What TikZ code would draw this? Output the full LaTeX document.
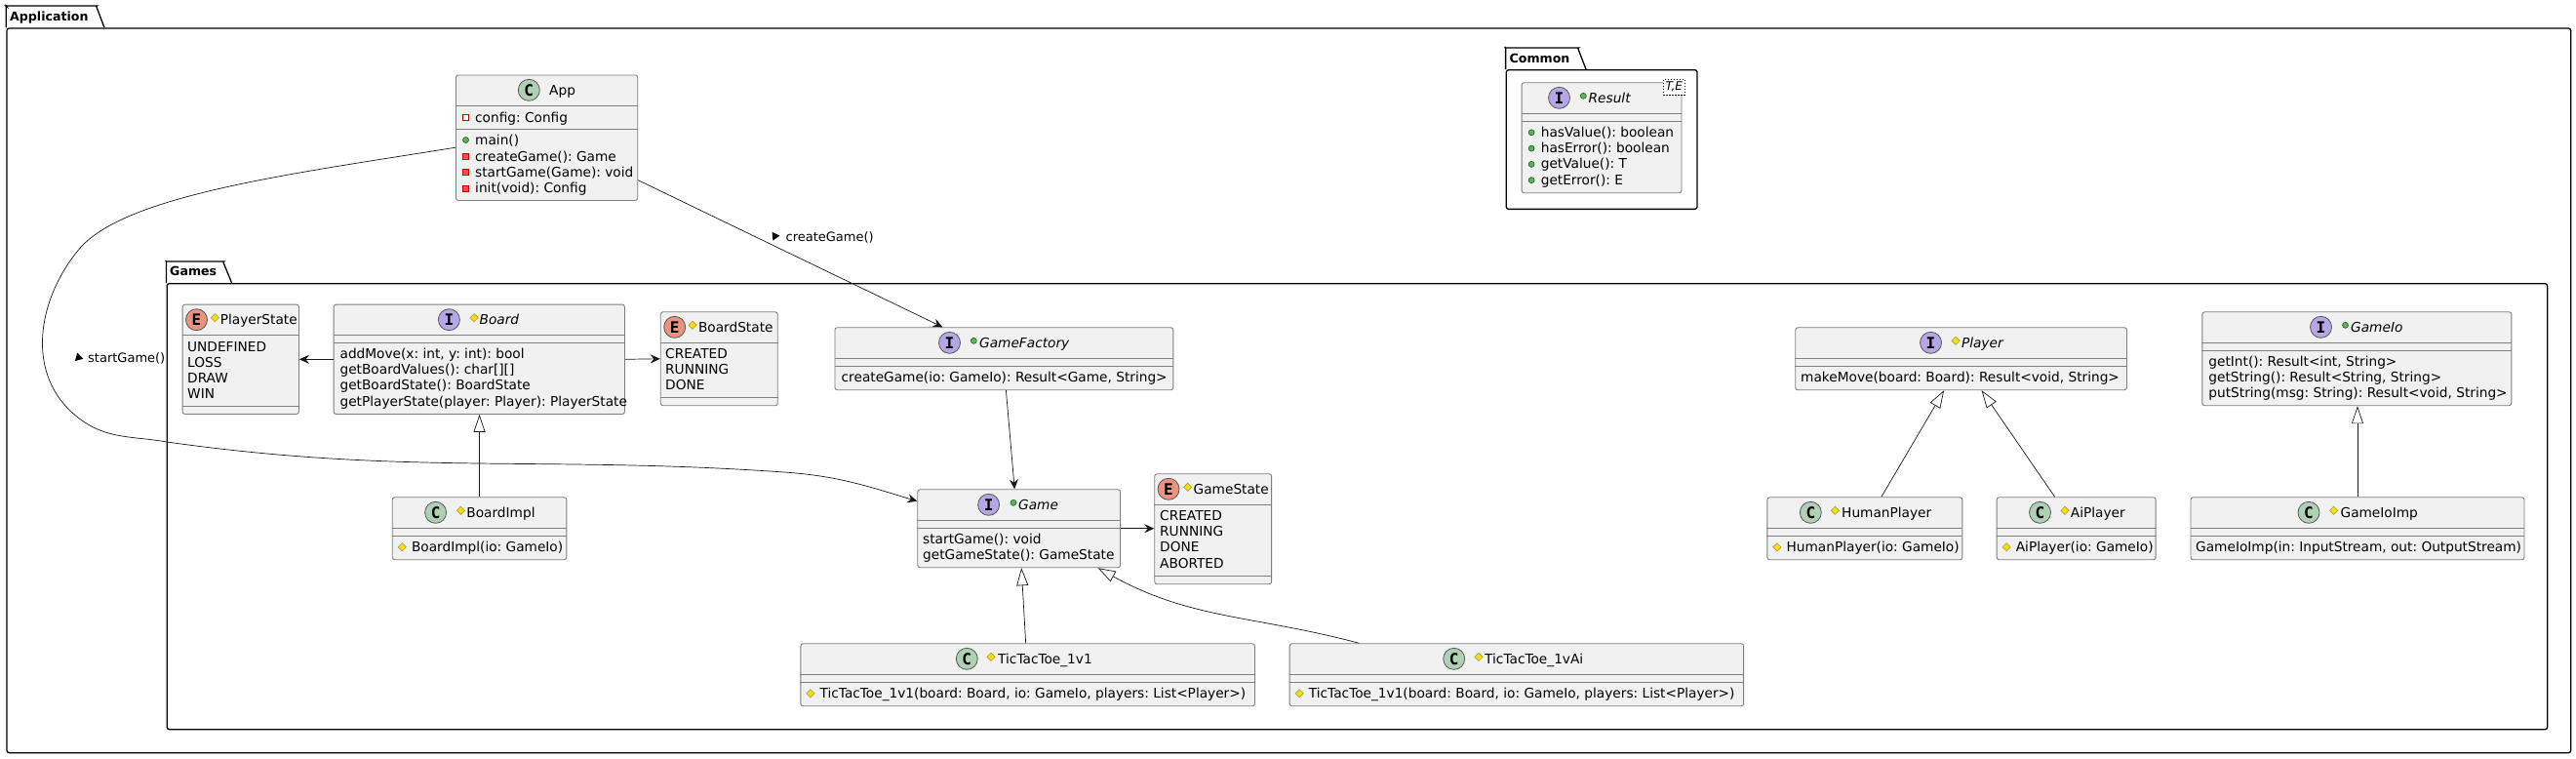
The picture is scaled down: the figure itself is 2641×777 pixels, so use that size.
\documentclass[tikz,border=0pt]{standalone}
\usepackage{fontspec}
\setmainfont{DejaVu Sans}
\setmonofont{DejaVu Sans Mono}
\usetikzlibrary{arrows.meta,shapes.geometric}
\frenchspacing

\definecolor{boxfill}{HTML}{F1F1F1}
\definecolor{boxline}{HTML}{7F7F7F}
\definecolor{spotC}{HTML}{ADD1B2}
\definecolor{spotI}{HTML}{B4A7E5}
\definecolor{spotE}{HTML}{EB937F}

\tikzset{
	classbox/.style={draw=boxline,fill=boxfill,line width=.9pt,rounded corners=2.5pt,inner sep=0pt,anchor=north west},
	pkgbody/.style={draw=black,fill=white,line width=1.3pt,rounded corners=2.5pt,inner sep=0pt,anchor=north west},
	pkgtitle/.style={anchor=base west,inner sep=0pt,font=\fontsize{12.6}{16}\selectfont\bfseries},
	sepline/.style={draw=boxline,line width=.9pt},
	spot/.style={circle,draw=black!65,line width=.8pt,inner sep=0pt,minimum size=22pt,font=\fontsize{16}{16}\ttfamily\bfseries},
	title/.style={anchor=base west,inner sep=0pt,font=\fontsize{13.7}{16}\selectfont},
	membertext/.style={anchor=base west,inner sep=0pt,font=\fontsize{13.7}{16}\selectfont},
	edgelabel/.style={anchor=base west,inner sep=0pt,font=\fontsize{13}{15}\selectfont},
	edgemark/.style={regular polygon,regular polygon sides=3,fill=black,inner sep=0pt,minimum size=10pt},
	vispub/.style={circle,draw=green!45!black,fill=green!45!black!60,line width=.6pt,inner sep=0pt,minimum size=6pt},
	vispro/.style={diamond,draw=yellow!60!black,fill=yellow!90!red,line width=.6pt,inner sep=0pt,minimum size=8.5pt},
	vispriv/.style={rectangle,draw=red!75!black,fill=red!70,line width=.6pt,inner sep=0pt,minimum size=6pt},
	visprivopen/.style={rectangle,draw=red!75!black,fill=white,line width=.8pt,inner sep=0pt,minimum size=6pt},
	assoc/.style={draw=black!90,line width=.7pt,-{Stealth[length=10pt,width=9pt,inset=3.5pt]}},
	extends/.style={draw=black!90,line width=.7pt,-{Triangle[length=18pt,width=12pt,fill=white]}},
}

% name, x, y, width, height
\newcommand{\umlbox}[5]{\node[classbox,minimum width=#4pt,minimum height=#5pt] (#1) at (#2,#3) {};}
% name, distance below the top edge
\newcommand{\umlsep}[2]{\draw[sepline] ([yshift=-#2pt]#1.north west)--([yshift=-#2pt]#1.north east);}
% name, spot colour, letter, spot x, spot y, title x, title
\newcommand{\umlhead}[7]{\node[spot,fill=#2] (#1-spot) at (#4,#5) {#3};
	\node[title] (#1-title) at (#6,#5+5) {#7};}
% name, icon style, box x, baseline y, text
\newcommand{\umlmember}[5]{\node[#2] (#1-icon) at (#3+10.5,#4-4.5) {};
	\node[membertext] (#1) at (#3+20,#4) {#5};}
% name, x, baseline y, text
\newcommand{\umlplain}[4]{\node[membertext] (#1) at (#2,#3) {#4};}

\begin{document}
\begin{tikzpicture}[x=1pt,y=-1pt]
\useasboundingbox (0,0) rectangle (2641,777);

% packages
\draw[pkgbody] (6.3,28.3)--(6.3,8.5) to [out=90,in=180](8.5,6)--(97,6) to [out=0,in=110](99.5,8.5)--(107,28.3);
\node[pkgbody,minimum width=2628.7pt,minimum height=742.7pt] (Application) at (6.3,28.3) {};
\node[pkgtitle] (Application-title) at (10,21) {Application};

\draw[pkgbody] (1543.6,71)--(1543.6,51.5) to [out=90,in=180](1546,49)--(1616,49) to [out=0,in=110](1618.5,51.5)--(1626,71);
\node[pkgbody,minimum width=195.8pt,minimum height=142.7pt] (Common) at (1543.6,71) {};
\node[pkgtitle] (Common-title) at (1547.4,64) {Common};

\draw[pkgbody] (170.5,290)--(170.5,270.5) to [out=90,in=180](173,268)--(227,268) to [out=0,in=110](229.6,270.5)--(237.6,290);
\node[pkgbody,minimum width=2440.5pt,minimum height=457pt] (Games) at (170.5,290) {};
\node[pkgtitle] (Games-title) at (174,282.7) {Games};

% App
\umlbox{App}{467}{76.5}{186.3}{128.5}
\umlsep{App}{31.5}
\umlsep{App}{55.8}
\umlhead{App}{spotC}{C}{542.3}{92.3}{563}{App}
\umlmember{App-config}{visprivopen}{467}{125}{config: Config}
\umlmember{App-main}{vispub}{467}{148}{main()}
\umlmember{App-create}{vispriv}{467}{165}{createGame(): Game}
\umlmember{App-start}{vispriv}{467}{181}{startGame(Game): void}
\umlmember{App-init}{vispriv}{467}{197.5}{init(void): Config}

% Result
\umlbox{Result}{1559.6}{84.3}{163.9}{113}
\umlsep{Result}{32}
\umlsep{Result}{40}
\umlhead{Result}{spotI}{I}{1598.5}{100.3}{1628.5}{\itshape Result}
\node[vispub] (Result-vis) at (1623.3,98.3) {};
\node[draw=black,fill=white,dashed,dash pattern=on 1.5pt off 1.5pt,line width=.7pt,inner sep=0pt,anchor=north west,
	minimum width=22pt,minimum height=15.7pt,font=\fontsize{12}{12}\selectfont\itshape] (Result-param) at (1705,81) {T,E};
\umlmember{Result-hasvalue}{vispub}{1559.6}{140.3}{hasValue(): boolean}
\umlmember{Result-haserror}{vispub}{1559.6}{156.6}{hasError(): boolean}
\umlmember{Result-getvalue}{vispub}{1559.6}{172.9}{getValue(): T}
\umlmember{Result-geterror}{vispub}{1559.6}{189.2}{getError(): E}

% PlayerState
\umlbox{PlayerState}{186.6}{311.7}{119.4}{112.3}
\umlsep{PlayerState}{31.6}
\umlsep{PlayerState}{104.3}
\umlhead{PlayerState}{spotE}{E}{201.5}{327.7}{225.6}{PlayerState}
\node[vispro] (PlayerState-vis) at (220.4,325.7) {};
\umlplain{PlayerState-undefined}{192}{360}{UNDEFINED}
\umlplain{PlayerState-loss}{192}{376.3}{LOSS}
\umlplain{PlayerState-draw}{192}{392.6}{DRAW}
\umlplain{PlayerState-win}{192}{408.9}{WIN}

% Board
\umlbox{Board}{341.6}{311.7}{298.4}{112.3}
\umlsep{Board}{31.6}
\umlsep{Board}{39.6}
\umlhead{Board}{spotI}{I}{460.4}{327.7}{491.4}{\itshape Board}
\node[vispro] (Board-vis) at (486.2,325.7) {};
\umlplain{Board-addmove}{348.4}{367.3}{addMove(x: int, y: int): bool}
\umlplain{Board-values}{348.4}{383.6}{getBoardValues(): char[][]}
\umlplain{Board-state}{348.4}{399.9}{getBoardState(): BoardState}
\umlplain{Board-player}{348.4}{416.2}{getPlayerState(player: Player): PlayerState}

% BoardState
\umlbox{BoardState}{676.8}{319.3}{120}{96}
\umlsep{BoardState}{32}
\umlsep{BoardState}{88}
\umlhead{BoardState}{spotE}{E}{691.7}{335.3}{715.8}{BoardState}
\node[vispro] (BoardState-vis) at (710,333.3) {};
\umlplain{BoardState-created}{682}{367.3}{CREATED}
\umlplain{BoardState-running}{682}{383.6}{RUNNING}
\umlplain{BoardState-done}{682}{399.9}{DONE}

% BoardImpl
\umlbox{BoardImpl}{401.8}{509.3}{178.6}{64}
\umlsep{BoardImpl}{32}
\umlsep{BoardImpl}{40}
\umlhead{BoardImpl}{spotC}{C}{446.6}{525.3}{478.2}{BoardImpl}
\node[vispro] (BoardImpl-vis) at (472.4,523.3) {};
\umlmember{BoardImpl-ctor}{vispro}{401.8}{565.3}{BoardImpl(io: GameIo)}

% GameFactory
\umlbox{GameFactory}{855.5}{335.3}{346.9}{64}
\umlsep{GameFactory}{32}
\umlsep{GameFactory}{40}
\umlhead{GameFactory}{spotI}{I}{973.5}{351.3}{1004}{\itshape GameFactory}
\node[vispub] (GameFactory-vis) at (998.3,349.3) {};
\umlplain{GameFactory-create}{862.5}{391.3}{createGame(io: GameIo): Result<Game, String>}

% Game
\umlbox{Game}{940.3}{501.3}{207.9}{80}
\umlsep{Game}{32}
\umlsep{Game}{40}
\umlhead{Game}{spotI}{I}{1013.6}{517.3}{1044}{\itshape Game}
\node[vispub] (Game-vis) at (1039,515.3) {};
\umlplain{Game-start}{946}{557.3}{startGame(): void}
\umlplain{Game-state}{946}{573.6}{getGameState(): GameState}

% GameState
\umlbox{GameState}{1183.3}{485.3}{119.9}{113}
\umlsep{GameState}{32}
\umlsep{GameState}{105}
\umlhead{GameState}{spotE}{E}{1198}{501.3}{1223.5}{GameState}
\node[vispro] (GameState-vis) at (1217.7,499.3) {};
\umlplain{GameState-created}{1189}{533.3}{CREATED}
\umlplain{GameState-running}{1189}{549.6}{RUNNING}
\umlplain{GameState-done}{1189}{565.9}{DONE}
\umlplain{GameState-aborted}{1189}{582.2}{ABORTED}

% TicTacToe
\umlbox{OneVsOne}{820.4}{659.3}{465.6}{64}
\umlsep{OneVsOne}{32}
\umlsep{OneVsOne}{40}
\umlhead{OneVsOne}{spotC}{C}{991.3}{675.3}{1023}{TicTacToe\_1v1}
\node[vispro] (OneVsOne-vis) at (1016,673.3) {};
\umlmember{OneVsOne-ctor}{vispro}{820.4}{715.3}{TicTacToe\_1v1(board: Board, io: GameIo, players: List<Player>)}

\umlbox{OneVsAi}{1321.7}{659.3}{465.5}{64}
\umlsep{OneVsAi}{32}
\umlsep{OneVsAi}{40}
\umlhead{OneVsAi}{spotC}{C}{1490.7}{675.3}{1522}{TicTacToe\_1vAi}
\node[vispro] (OneVsAi-vis) at (1516,673.3) {};
\umlmember{OneVsAi-ctor}{vispro}{1321.7}{715.3}{TicTacToe\_1v1(board: Board, io: GameIo, players: List<Player>)}

% Player
\umlbox{Player}{1840.3}{335.3}{339.7}{64}
\umlsep{Player}{32}
\umlsep{Player}{40}
\umlhead{Player}{spotI}{I}{1979.5}{351.3}{2010.8}{\itshape Player}
\node[vispro] (Player-vis) at (2005,349.3) {};
\umlplain{Player-move}{1846}{391.3}{makeMove(board: Board): Result<void, String>}

\umlbox{HumanPlayer}{1811.4}{509.3}{200}{64}
\umlsep{HumanPlayer}{32}
\umlsep{HumanPlayer}{40}
\umlhead{HumanPlayer}{spotC}{C}{1856.3}{525.3}{1888}{HumanPlayer}
\node[vispro] (HumanPlayer-vis) at (1881.3,523.3) {};
\umlmember{HumanPlayer-ctor}{vispro}{1811.4}{565.3}{HumanPlayer(io: GameIo)}

\umlbox{AiPlayer}{2046.6}{509.3}{163.1}{64}
\umlsep{AiPlayer}{32}
\umlsep{AiPlayer}{40}
\umlhead{AiPlayer}{spotC}{C}{2091.5}{525.3}{2122.7}{AiPlayer}
\node[vispro] (AiPlayer-vis) at (2117,523.3) {};
\umlmember{AiPlayer-ctor}{vispro}{2046.6}{565.3}{AiPlayer(io: GameIo)}

% GameIo
\umlbox{GameIo}{2257.4}{319.3}{317}{96}
\umlsep{GameIo}{32}
\umlsep{GameIo}{40}
\umlhead{GameIo}{spotI}{I}{2379.5}{335.3}{2410}{\itshape GameIo}
\node[vispub] (GameIo-vis) at (2404.5,333.3) {};
\umlplain{GameIo-int}{2264.2}{375.3}{getInt(): Result<int, String>}
\umlplain{GameIo-string}{2264.2}{391.6}{getString(): Result<String, String>}
\umlplain{GameIo-put}{2264.2}{407.9}{putString(msg: String): Result<void, String>}

\umlbox{GameIoImp}{2245.5}{509.3}{342}{64}
\umlsep{GameIoImp}{32}
\umlsep{GameIoImp}{40}
\umlhead{GameIoImp}{spotC}{C}{2367}{525.3}{2399.4}{GameIoImp}
\node[vispro] (GameIoImp-vis) at (2392.6,523.3) {};
\umlplain{GameIoImp-ctor}{2251}{565.3}{GameIoImp(in: InputStream, out: OutputStream)}

% connectors
\draw[assoc] ([yshift=-43.5pt]App.east)--([xshift=-63pt]GameFactory.north);
\node[edgemark,rotate=35] (createGame-mark) at (794.5,242) {};
\node[edgelabel] (createGame-label) at (805.4,247) {createGame()};

\draw[assoc] ([yshift=-10pt]App.west) .. controls (300,178) and (125,200) .. (80,256.7) .. controls (38,308) and (25,385) .. (80,428)
	to [out=-38,in=170](171,453) to [out=-8,in=176](804,484) to [out=-4,in=163]([yshift=28pt]Game.west);
\node[edgemark,rotate=15] (startGame-mark) at (80.5,366.5) {};
\node[edgelabel] (startGame-label) at (90,371.7) {startGame()};

\draw[assoc] ([xshift=2pt]GameFactory.south)--([xshift=-4.5pt]Game.north);
\draw[assoc] (Game.east)--(Game.east -| GameState.west);
\draw[assoc] (Board.west)--(PlayerState.east);
\draw[assoc] (Board.east)--(BoardState.west);

\draw[extends] (BoardImpl.north)--(BoardImpl.north |- Board.south);
\draw[extends] ([xshift=-2pt]OneVsOne.north)--([xshift=2.5pt]Game.south);
\draw[extends] ([xshift=-161.5pt]OneVsAi.north) to [out=165,in=-29]([xshift=81pt]Game.south);
\draw[extends] ([xshift=17pt]HumanPlayer.north)--([xshift=-17.5pt]Player.south);
\draw[extends] ([xshift=-22pt]AiPlayer.north)--([xshift=21pt]Player.south);
\draw[extends] (GameIoImp.north)--(GameIoImp.north |- GameIo.south);
\end{tikzpicture}
\end{document}
